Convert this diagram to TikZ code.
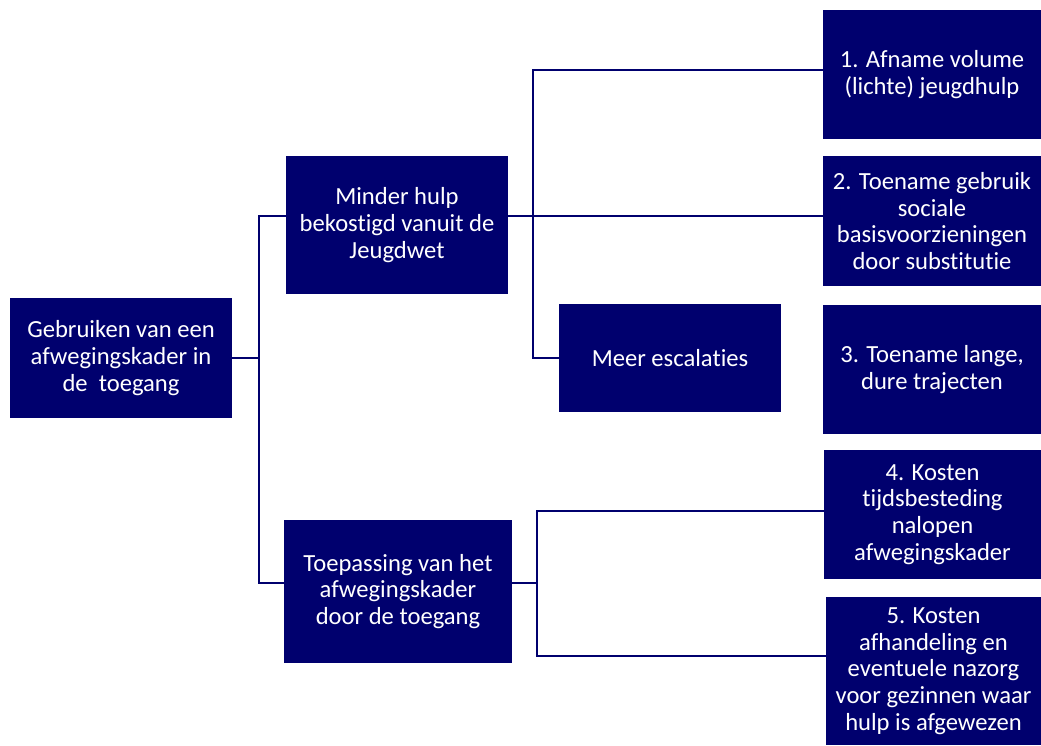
\documentclass[tikz,border=0pt]{standalone}
\usepackage{fontspec}
\setmainfont{Carlito}[Ligatures=NoCommon]
\usepackage{tikz}
\usetikzlibrary{positioning,calc}
\definecolor{navyb}{HTML}{00006E}

\begin{document}
\begin{tikzpicture}[x=0.025cm,y=-0.025cm,
    box/.style={fill=navyb, text=white, align=center, inner sep=2pt,
      font=\fontsize{17.5}{19}\selectfont},
    link/.style={draw=navyb, line width=1.8pt}]
  \useasboundingbox (0,0) rectangle (1041,745);

  % ======= level 1 and 2 =======
  \node[box, minimum width=5.55cm, minimum height=3cm] (root) at (121,358)
    {Gebruiken van een\\afwegingskader in\\de\ \ toegang};
  \node[box, minimum width=5.55cm, minimum height=3.45cm] (minder) at (397,225)
    {Minder hulp\\bekostigd vanuit de\\Jeugdwet};
  \node[box, minimum width=5.7cm, minimum height=3.575cm] (toep) at (398,591.5)
    {Toepassing van het\\afwegingskader\\door de toegang};
  \node[box, minimum width=5.55cm, minimum height=2.7cm] (meer) at (670,358)
    {Meer escalaties};

  % ======= outcomes (right) =======
  \node[box, minimum width=5.45cm, minimum height=3.225cm] (box1) at (932,74.5)
    {1. Afname volume\\(lichte) jeugdhulp};
  \node[box, minimum width=5.45cm, minimum height=3.25cm] (box2) at (932,221)
    {2. Toename gebruik\\sociale\\basisvoorzieningen\\door substitutie};
  \node[box, minimum width=5.45cm, minimum height=3.225cm] (box3) at (932,369.5)
    {3. Toename lange,\\dure trajecten};
  \node[box, minimum width=5.425cm, minimum height=3.225cm] (box4) at (932.5,514.5)
    {4. Kosten\\tijdsbesteding\\nalopen\\afwegingskader};
  \node[box, minimum width=5.375cm, minimum height=3.7cm] (box5) at (933.5,671)
    {5. Kosten\\afhandeling en\\eventuele nazorg\\voor gezinnen waar\\hulp is afgewezen};

  % junctions
  \coordinate (a1) at (259,216);
  \coordinate (a2) at (259,583);
  \coordinate (b1) at (533,70);
  \coordinate (b2) at (533,358);
  \coordinate (c1) at (537,511);
  \coordinate (c2) at (537,656);

  % connectors
  \draw[link] (root.east) -| (a1) -- (a1 -| minder.west);
  \draw[link] (root.east) -| (a2) -- (a2 -| toep.west);
  \draw[link] (a1 -| minder.east) -- (a1 -| box2.west);
  \draw[link] (b1 -| box1.west) -| (b2) -- (meer.west);
  \draw[link] (a2 -| toep.east) -| (c1) -- (c1 -| box4.west);
  \draw[link] (a2 -| toep.east) -| (c2) -- (c2 -| box5.west);
\end{tikzpicture}
\end{document}
